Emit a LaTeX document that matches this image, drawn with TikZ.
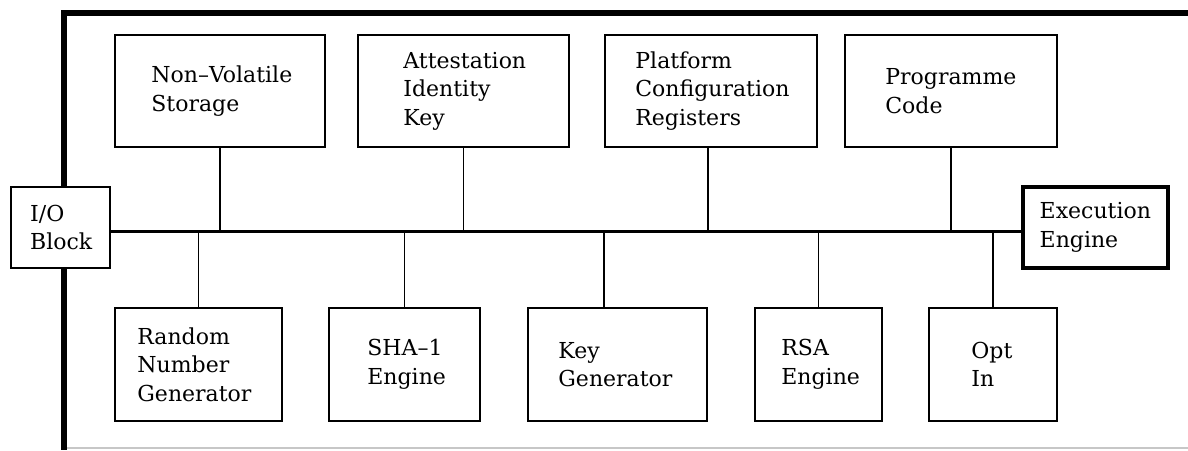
\documentclass[tikz,border=0pt]{standalone}
\usepackage{fontspec}
\setmainfont{DejaVu Serif}
\usetikzlibrary{fit}
\tikzset{
  blk/.style={draw, line width=1pt, inner sep=0pt},
  txt/.style={align=left, inner sep=0pt, anchor=west, font=\fontsize{11}{14.3}\selectfont},
  link/.style={line width=0.7pt},
  bus/.style={line width=1.6pt},
  frame/.style={line width=3pt},
}
\begin{document}
\begin{tikzpicture}[x=0.5pt,y=-0.5pt]
			%%%%% START %%%%%
			\useasboundingbox (0,0) rectangle (1188,450);
			
			% outer frame
			\draw[frame] (1188,13) -- (64,13) -- (64,187);
			\draw[frame] (64,268) -- (64,450);
			\draw[black!22, line width=0.6pt] (67,448) -- (1188,448);
			
			% end blocks
			\node[blk, line width=1.2pt, fit={(11,187) (110,268)}] (io) {};
			\node[txt] (io-t) at ([xshift=10pt]io.west) {I/O\\Block};
			\node[blk, line width=1.7pt, fit={(1023,187) (1168,268)}] (exe) {};
			\node[txt] (exe-t) at ([xshift=9pt]exe.west) {Execution\\Engine};
			
			% bus
			\coordinate (busl) at (io.east |- 0,231.5);
			\coordinate (busr) at (exe.west |- 0,231.5);
			\draw[bus] (busl) -- (busr);
			
			% upper row
			\node[blk, fit={(115,35) (325,147)}] (nvs) {};
			\node[txt] (nvs-t) at ([xshift=18.5pt]nvs.west) {Non\textendash Volatile\\Storage};
			\node[blk, fit={(358,35) (569,147)}] (aik) {};
			\node[txt] (aik-t) at ([xshift=23pt]aik.west) {Attestation\\Identity\\Key};
			\node[blk, fit={(605,35) (817,147)}] (pcr) {};
			\node[txt] (pcr-t) at ([xshift=15.5pt]pcr.west) {Platform\\Configuration\\Registers};
			\node[blk, fit={(845,35) (1057,147)}] (pgc) {};
			\node[txt] (pgc-t) at ([xshift=20.5pt]pgc.west) {Programme\\Code};
			
			% lower row
			\node[blk, fit={(115,308) (282,421)}] (rng) {};
			\node[txt] (rng-t) at ([xshift=11.5pt]rng.west) {Random\\Number\\Generator};
			\node[blk, fit={(329,308) (480,421)}] (sha) {};
			\node[txt] (sha-t) at ([xshift=19.5pt]sha.west) {SHA\textendash 1\\Engine};
			\node[blk, fit={(528,308) (707,421)}] (kgen) {};
			\node[txt] (kgen-t) at ([xshift=15.5pt]kgen.west) {Key\\Generator};
			\node[blk, fit={(755,308) (882,421)}] (rsa) {};
			\node[txt] (rsa-t) at ([xshift=13.5pt]rsa.west) {RSA\\Engine};
			\node[blk, fit={(929,308) (1057,421)}] (opt) {};
			\node[txt] (opt-t) at ([xshift=21.5pt]opt.west) {Opt\\In};
			
			% taps onto the bus
			\draw[link] (nvs.south) -- (nvs.south |- busl);
			\draw[link] (aik.south) -- (aik.south |- busl);
			\draw[link] ([xshift=-1.5pt]pcr.south) -- ([xshift=-1.5pt]pcr.south |- busl);
			\draw[link] (pgc.south) -- (pgc.south |- busl);
			
			\draw[link] (rng.north) -- (rng.north |- busl);
			\draw[link] (sha.north) -- (sha.north |- busl);
			\draw[link] ([xshift=-6.75pt]kgen.north) -- ([xshift=-6.75pt]kgen.north |- busl);
			\draw[link] (rsa.north) -- (rsa.north |- busl);
			\draw[link] (opt.north) -- (opt.north |- busl);
			
			%%%%% END %%%%%
\end{tikzpicture}
\end{document}
